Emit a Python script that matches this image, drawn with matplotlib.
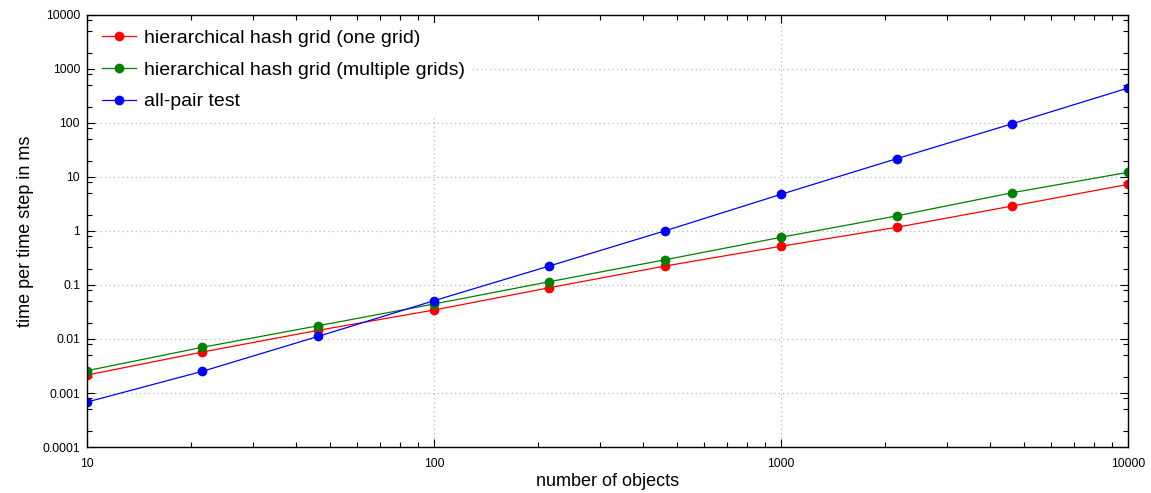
import matplotlib
matplotlib.use("Agg")
import matplotlib.pyplot as plt
from matplotlib.ticker import LogLocator, FuncFormatter, NullFormatter


num_objects = [10, 21.5, 46.4, 100, 215, 464, 1000, 2154, 4642, 10000]
one_grid = [0.00215, 0.00574, 0.0145, 0.0344, 0.089, 0.225, 0.521, 1.17, 2.90, 7.3]
multi_grids = [0.00259, 0.00702, 0.0176, 0.0445, 0.115, 0.294, 0.764, 1.90, 5.12, 12.2]
all_pair = [0.00068, 0.00252, 0.0112, 0.0512, 0.225, 1.01, 4.78, 21.8, 97, 444]

series = [
    ("hierarchical hash grid (one grid)", one_grid, "#ff0000"),
    ("hierarchical hash grid (multiple grids)", multi_grids, "#008000"),
    ("all-pair test", all_pair, "#0000ff"),
]


def main():
    plt.rcParams["font.family"] = ["Liberation Sans", "DejaVu Sans"]
    fig = plt.figure(figsize=(11.51, 4.93), dpi=100)
    ax = fig.add_axes([0.0756, 0.0933, 0.9044, 0.8763])

    for label, ys, color in series:
        ax.plot(num_objects, ys, color=color, lw=0.9, marker="o",
                markersize=6, label=label)

    ax.set_xscale("log")
    ax.set_yscale("log")
    ax.set_xlim(10, 10000)
    ax.set_ylim(0.0001, 10000)

    ax.xaxis.set_major_locator(LogLocator(base=10, numticks=10))
    ax.xaxis.set_minor_locator(LogLocator(base=10, subs=range(2, 10), numticks=20))
    ax.yaxis.set_major_locator(LogLocator(base=10, numticks=20))
    ax.yaxis.set_minor_locator(LogLocator(base=10, subs=(2, 5, 8), numticks=20))
    fmt = FuncFormatter(lambda v, p: "{:g}".format(v))
    ax.xaxis.set_major_formatter(fmt)
    ax.yaxis.set_major_formatter(fmt)
    ax.xaxis.set_minor_formatter(NullFormatter())
    ax.yaxis.set_minor_formatter(NullFormatter())

    ax.tick_params(which="both", direction="in", top=True, right=True,
                   labelsize=8.8, width=0.8)
    ax.tick_params(which="major", length=6)
    ax.tick_params(which="minor", length=3.5)
    ax.tick_params(axis="x", pad=8)
    ax.tick_params(axis="y", pad=5)

    ax.grid(True, which="major", color="#b8b8b8", linestyle=(0, (1, 2.5)), lw=0.9)
    for s in ax.spines.values():
        s.set_linewidth(1.0)

    ax.set_xlabel("number of objects", fontsize=13, labelpad=2)
    ax.set_ylabel("time per time step in ms", fontsize=13, labelpad=6)

    leg = ax.legend(loc="upper left", fontsize=14, frameon=True, fancybox=False,
                    edgecolor="white", facecolor="white", framealpha=1.0,
                    handlelength=1.75, handletextpad=0.45, labelspacing=0.72,
                    borderaxespad=0.4, borderpad=0.35)
    leg.get_frame().set_linewidth(0)

    fig.savefig("out.png", dpi=100)


if __name__ == "__main__":
    main()
